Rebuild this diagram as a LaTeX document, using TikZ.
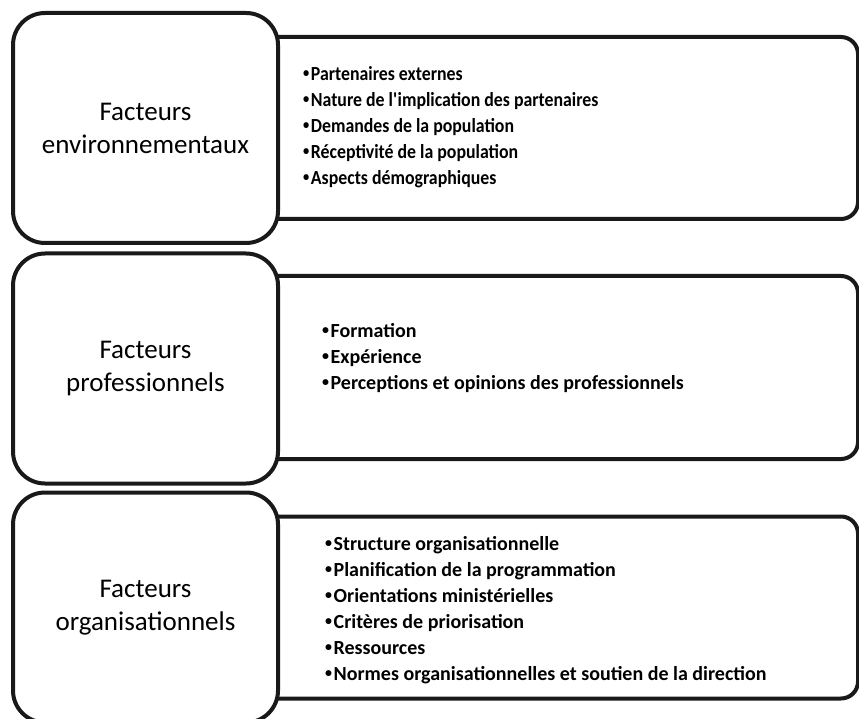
\documentclass[tikz,border=0pt]{standalone}
\usepackage{fontspec}
\setmainfont{Carlito}
\newcommand\bul{\raisebox{0.13em}{\scalebox{0.7}{•}}\hspace{1.5pt}}
\tikzset{
  catbox/.style={draw=black!90, line width=4pt, fill=white, rounded corners=32pt,
    minimum width=265pt, minimum height=230pt, align=center, inner sep=0pt,
    font=\fontsize{27}{33}\selectfont},
  listbox/.style={draw=black!90, line width=4pt, rounded corners=17pt, inner sep=0pt},
  listtext/.style={anchor=west, align=left, inner sep=0pt,
    font=\bfseries\fontsize{20}{26}\selectfont}
}
\begin{document}
\begin{tikzpicture}[x=1pt,y=-1pt]
\useasboundingbox (0,0) rectangle (859,719);
\begin{scope}
\clip (0,0) rectangle (859,719);
% right boxes (left part hidden by the category boxes)
\node[listbox, minimum width=618pt, minimum height=182pt] (R1) at (549,128) {};
\node[listbox, minimum width=618pt, minimum height=183pt] (R2) at (549,367.5) {};
\node[listbox, minimum width=618pt, minimum height=182pt] (R3) at (549,607.5) {};
% category boxes
\node[catbox] (L1) at (145.5,128) {Facteurs\\environnementaux};
\node[catbox] (L2) at (145.5,368.5) {Facteurs\\professionnels};
\node[catbox] (L3) at (145.5,607.5) {Facteurs\\organisationnels};
\end{scope}
% lists
\node[listtext, font=\bfseries\fontsize{20}{26}\selectfont\addfontfeature{FakeStretch=0.89}] (T1) at (303,127) {\bul Partenaires externes\\\bul Nature de l\textquotesingle implication des partenaires\\\bul Demandes de la population\\\bul Réceptivité de la population\\\bul Aspects démographiques};
\node[listtext] (T2) at (322,358) {\bul Formation\\\bul Expérience\\\bul Perceptions et opinions des professionnels};
\node[listtext] (T3) at (325,610) {\bul Structure organisationnelle\\\bul Planification de la programmation\\\bul Orientations ministérielles\\\bul Critères de priorisation\\\bul Ressources\\\bul Normes organisationnelles et soutien de la direction};
\end{tikzpicture}
\end{document}
